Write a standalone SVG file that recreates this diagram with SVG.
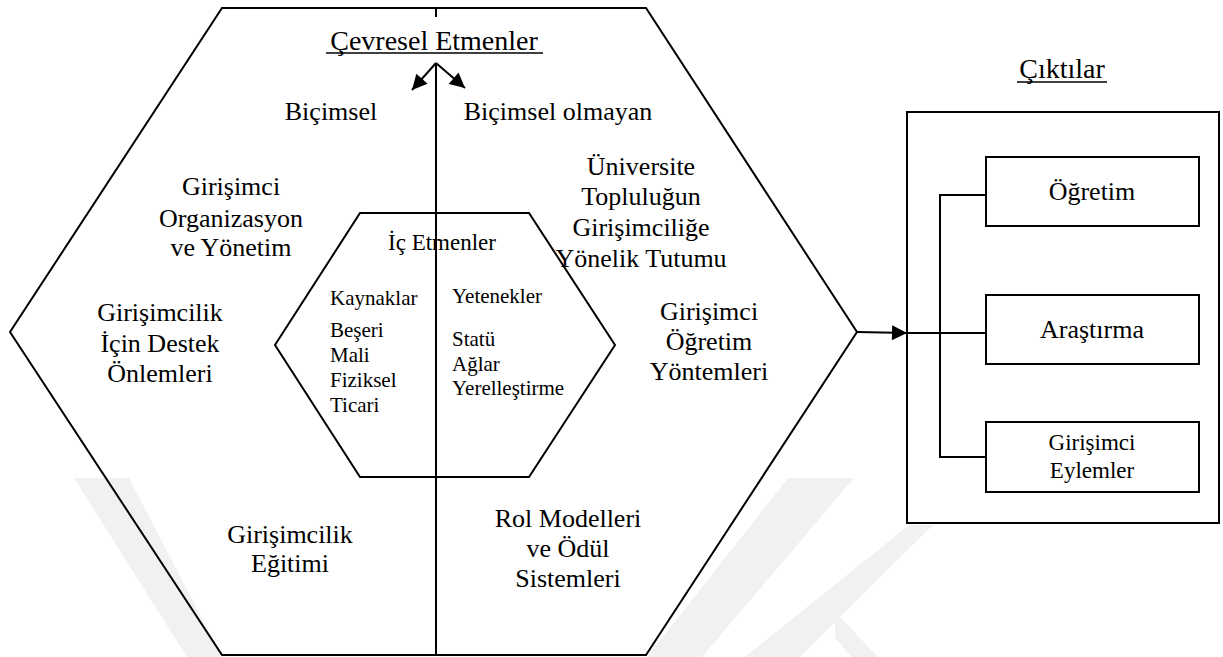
<svg xmlns="http://www.w3.org/2000/svg" width="1223" height="657" viewBox="0 0 1223 657">
<style>
  text { font-family: 'Liberation Serif', 'Tinos', 'DejaVu Serif', serif; fill: #000; text-anchor: middle; }
  .b { font-size: 26px; }
  .h { font-size: 28px; }
  .s { font-size: 21px; text-anchor: start; }
  .m { font-size: 23px; }
  .ln { stroke: #000; stroke-width: 2; fill: none; }
  .bx { stroke: #000; stroke-width: 2; fill: #fff; }
  .wm { fill: #f1f1f1; stroke: none; }
</style>
<defs>
  <marker id="ah2" viewBox="0 0 10 10" refX="10" refY="5" markerWidth="17" markerHeight="15" markerUnits="userSpaceOnUse" orient="auto">
    <path d="M0,0 L10,5 L0,10 Z" fill="#000"/>
  </marker>
</defs>
<rect width="1223" height="657" fill="#fff"/>

<g id="watermark">
  <polygon class="wm" points="74,478 129,478 222,657 187,657"/>
  <polygon class="wm" points="788,478 854,478 702,657 647,657"/>
  <polygon class="wm" points="909,525 933,525 800,657 745,657"/>
  <polygon class="wm" points="835,612 878,657 852,657 835,638"/>
</g>

<g id="outer-hexagon">
  <polygon class="ln" points="222,8 646,8 857,332 646,655 222,655 10,332"/>
</g>

<g id="inner-hexagon">
  <polygon class="ln" points="360,213 529,213 615,345 529,477 360,477 275,345"/>
</g>

<g id="connectors">
  <line class="ln" x1="436" y1="8" x2="436" y2="17"/>
  <line class="ln" x1="436" y1="63" x2="436" y2="655"/>
  <line class="ln" x1="436" y1="63" x2="412" y2="90" marker-end="url(#ah2)"/>
  <line class="ln" x1="436" y1="63" x2="465" y2="88" marker-end="url(#ah2)"/>
  <line class="ln" x1="857" y1="332" x2="907" y2="333" marker-end="url(#ah2)"/>
  <line class="ln" x1="907" y1="333" x2="986" y2="333"/>
  <polyline class="ln" points="986,195 940,195 940,457 986,457"/>
</g>

<g id="title-cevresel">
  <text class="h" x="434" y="50">Çevresel Etmenler</text>
  <line x1="326" y1="53" x2="543" y2="53" stroke="#000" stroke-width="1.5"/>
</g>
<g id="bicimsel"><text class="b" x="331" y="120">Biçimsel</text></g>
<g id="bicimsel-olmayan"><text class="b" x="558" y="120">Biçimsel olmayan</text></g>

<g id="organizasyon">
  <text class="b" x="231" y="195">Girişimci</text>
  <text class="b" x="231" y="227">Organizasyon</text>
  <text class="b" x="231" y="256">ve Yönetim</text>
</g>
<g id="destek">
  <text class="b" x="160" y="321">Girişimcilik</text>
  <text class="b" x="160" y="352">İçin Destek</text>
  <text class="b" x="160" y="382">Önlemleri</text>
</g>
<g id="egitim">
  <text class="b" x="290" y="543">Girişimcilik</text>
  <text class="b" x="290" y="572">Eğitimi</text>
</g>
<g id="rol-modelleri">
  <text class="b" x="568" y="527">Rol Modelleri</text>
  <text class="b" x="568" y="557">ve Ödül</text>
  <text class="b" x="568" y="587">Sistemleri</text>
</g>
<g id="universite">
  <text class="b" x="641" y="175">Üniversite</text>
  <text class="b" x="641" y="205">Topluluğun</text>
  <text class="b" x="641" y="236">Girişimciliğe</text>
  <text class="b" x="641" y="267">Yönelik Tutumu</text>
</g>
<g id="ogretim-yontemleri">
  <text class="b" x="709" y="320">Girişimci</text>
  <text class="b" x="709" y="350">Öğretim</text>
  <text class="b" x="709" y="380">Yöntemleri</text>
</g>

<g id="ic-etmenler"><text class="m" x="442" y="250">İç Etmenler</text></g>
<g id="kaynaklar">
  <text class="s" x="330" y="305">Kaynaklar</text>
  <text class="s" x="330" y="337">Beşeri</text>
  <text class="s" x="330" y="362">Mali</text>
  <text class="s" x="330" y="387">Fiziksel</text>
  <text class="s" x="330" y="412">Ticari</text>
</g>
<g id="yetenekler">
  <text class="s" x="452" y="303">Yetenekler</text>
  <text class="s" x="452" y="346">Statü</text>
  <text class="s" x="452" y="371">Ağlar</text>
  <text class="s" x="452" y="395">Yerelleştirme</text>
</g>

<g id="ciktilar-title">
  <text class="h" x="1062" y="78">Çıktılar</text>
  <line x1="1017" y1="82" x2="1107" y2="82" stroke="#000" stroke-width="1.5"/>
</g>
<g id="ciktilar-box">
  <rect class="ln" x="907" y="112" width="312" height="411"/>
</g>
<g id="ogretim">
  <rect class="bx" x="986" y="157" width="213" height="69"/>
  <text class="b" x="1092" y="200">Öğretim</text>
</g>
<g id="arastirma">
  <rect class="bx" x="986" y="295" width="213" height="69"/>
  <text class="b" x="1092" y="338">Araştırma</text>
</g>
<g id="eylemler">
  <rect class="bx" x="986" y="422" width="213" height="70"/>
  <text class="m" x="1092" y="450">Girişimci</text>
  <text class="m" x="1092" y="478">Eylemler</text>
</g>
</svg>
